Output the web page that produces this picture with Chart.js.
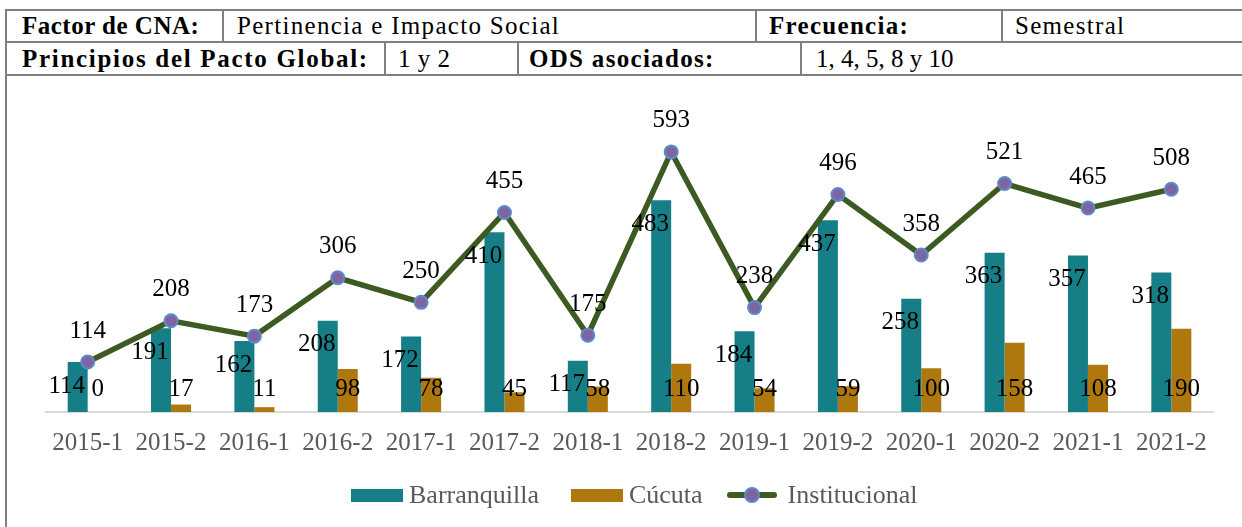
<!DOCTYPE html>
<html>
<head>
<meta charset="utf-8">
<script src="https://cdn.jsdelivr.net/npm/chart.js@4/dist/chart.umd.min.js"></script>
<style>
  body{margin:0;background:#fff;font-family:"Liberation Serif",serif;}
  #wrap{position:relative;width:1242px;height:527px;overflow:hidden;}
  .row{position:absolute;left:5px;width:1260px;display:flex;border-left:2px solid #808080;border-top:2px solid #808080;box-sizing:border-box;}
  .cell{box-sizing:border-box;border-right:2px solid #808080;font-size:25px;white-space:nowrap;color:#000;letter-spacing:1.3px;}
  .cell.last{border-right:none;flex:1;}
  .b{font-weight:bold;}
  #leftline{position:absolute;left:5px;top:9px;width:2px;height:530px;background:#808080;}
  #r2bottom{position:absolute;left:5px;top:74px;width:1260px;height:2px;background:#808080;}
  #chartBox{position:absolute;left:7px;top:76px;}
  #legend{position:absolute;left:351px;top:480px;display:flex;align-items:center;font-size:26px;color:#595959;}
  .item{display:flex;align-items:center;margin-right:32px;}
  .item:nth-child(2){margin-right:24px;}
  .box{display:inline-block;width:52px;height:13px;margin-right:6px;}
  .ln{position:relative;width:50px;height:6px;border-radius:3px;margin-right:11px;}
  .ln i{position:absolute;left:17px;top:-5px;width:12px;height:12px;border-radius:50%;border:2px solid #5B8BCB;}
</style>
</head>
<body>
<div id="wrap">
  <div class="row" style="top:9px;height:32px;line-height:30px;">
    <div class="cell b" style="width:217px;padding-left:15px;letter-spacing:0.5px;">Factor de CNA:</div>
    <div class="cell" style="width:533px;padding-left:13px;">Pertinencia e Impacto Social</div>
    <div class="cell b" style="width:246px;padding-left:12px;">Frecuencia:</div>
    <div class="cell last" style="padding-left:12px;">Semestral</div>
  </div>
  <div class="row" style="top:41px;height:33px;line-height:31px;border-left:none;left:7px;">
    <div class="cell b" style="width:379px;padding-left:15px;letter-spacing:1.7px;">Principios del Pacto Global:</div>
    <div class="cell" style="width:133px;padding-left:12px;letter-spacing:0.5px;">1 y 2</div>
    <div class="cell b" style="width:283px;padding-left:10px;">ODS asociados:</div>
    <div class="cell last" style="padding-left:14px;letter-spacing:0;">1, 4, 5, 8 y 10</div>
  </div>
  <div id="r2bottom"></div>
  <div id="leftline"></div>
  <div id="chartBox"><canvas id="c" width="1235" height="451"></canvas></div>
  <div id="legend"></div>
</div>
<script>
const periodos = ['2015-1','2015-2','2016-1','2016-2','2017-1','2017-2','2018-1','2018-2','2019-1','2019-2','2020-1','2020-2','2021-1','2021-2'];
const barranquilla = [114,191,162,208,172,410,117,483,184,437,258,363,357,318];
const cucuta = [0,17,11,98,78,45,58,110,54,59,100,158,108,190];
const institucional = [114,208,173,306,250,455,175,593,238,496,358,521,465,508];

const TEAL = '#157E86', GOLD = '#AE780F', GREEN = '#3C5A21', PURPLE = '#8064A2', BLUE = '#5B8BCB';

Chart.defaults.font.family = '"Liberation Serif", serif';

// etiquetas de valor (sin plugin externo)
const valueLabels = {
  id: 'valueLabels',
  afterDatasetsDraw(chart){
    const ctx = chart.ctx;
    const base = chart.scales.y.getPixelForValue(0);
    ctx.save();
    ctx.font = '25px "Liberation Serif"';
    ctx.fillStyle = '#000';
    ctx.textAlign = 'center';
    ctx.textBaseline = 'middle';
    chart.data.datasets.forEach((ds, i) => {
      chart.getDatasetMeta(i).data.forEach((el, j) => {
        let x = el.x, y = el.y;
        if (ds.label === 'Barranquilla'){ x -= 11; y += 24; }
        else if (ds.label === 'Cúcuta'){ y = base - 23; }
        else { y -= 31; }
        ctx.fillText(String(ds.data[j]), x, y);
      });
    });
    ctx.restore();
  }
};

const chart = new Chart(document.getElementById('c').getContext('2d'), {
  data: {
    labels: periodos,
    datasets: [
      { type:'line', label:'Institucional', data:institucional, order:0,
        borderColor:GREEN, borderWidth:5.5, tension:0,
        pointRadius:6.5, pointBackgroundColor:PURPLE, pointBorderColor:BLUE, pointBorderWidth:2 },
      { type:'bar', label:'Barranquilla', data:barranquilla, order:1, backgroundColor:TEAL,
        categoryPercentage:0.48, barPercentage:1 },
      { type:'bar', label:'Cúcuta', data:cucuta, order:1, backgroundColor:GOLD,
        categoryPercentage:0.48, barPercentage:1 }
    ]
  },
  options: {
    responsive:false, animation:false, devicePixelRatio:1,
    layout:{ padding:{ left:39, right:29, top:29, bottom:55 } },
    plugins:{ legend:{ display:false }, tooltip:{ enabled:false } },
    scales:{
      x:{ grid:{ display:false, drawTicks:false },
          border:{ display:true, color:'#D9D9D9', width:2 },
          ticks:{ color:'#595959', font:{ size:25 }, padding:16, maxRotation:0, autoSkip:false },
          afterFit(s){ s.height = 60; } },
      y:{ display:false, min:0, max:700 }
    }
  },
  plugins:[valueLabels]
});

// leyenda html
const leg = document.getElementById('legend');
[['Barranquilla', TEAL, 'box'], ['Cúcuta', GOLD, 'box'], ['Institucional', GREEN, 'line']].forEach(([t, c, k]) => {
  const it = document.createElement('div'); it.className = 'item';
  if (k === 'box') it.innerHTML = `<span class="box" style="background:${c}"></span><span>${t}</span>`;
  else it.innerHTML = `<span class="ln" style="background:${c}"><i style="background:${PURPLE}"></i></span><span>${t}</span>`;
  leg.appendChild(it);
});
</script>
</body>
</html>
